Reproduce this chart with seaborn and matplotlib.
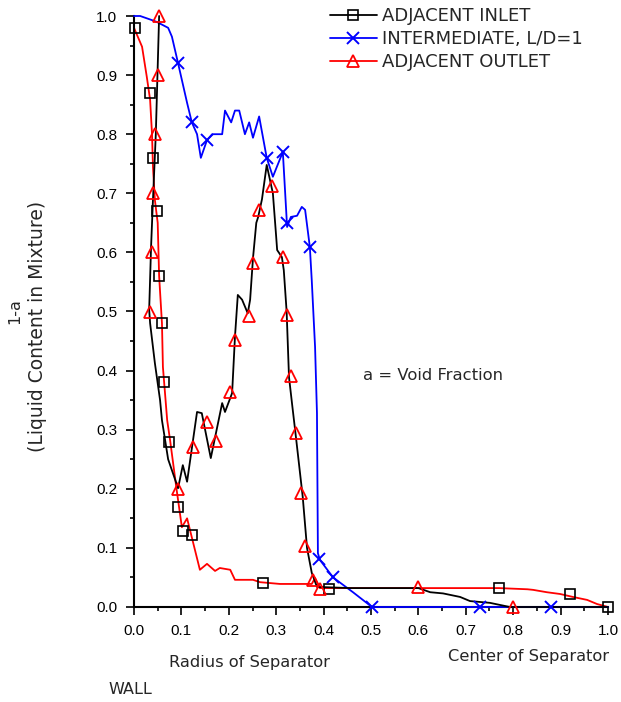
import matplotlib
matplotlib.use("Agg")
import matplotlib.pyplot as plt
from matplotlib.lines import Line2D
from matplotlib.ticker import MultipleLocator
import seaborn as sns

# ADJACENT INLET - black line
inlet_x = [0.053, 0.046, 0.040, 0.036, 0.032, 0.034, 0.044, 0.055, 0.059, 0.072, 0.093, 0.103,
           0.112, 0.133, 0.143, 0.162, 0.186, 0.192, 0.207, 0.213, 0.219, 0.228, 0.240, 0.245,
           0.251, 0.258, 0.262, 0.270, 0.280, 0.293, 0.300, 0.302, 0.312, 0.316, 0.322, 0.327,
           0.334, 0.342, 0.356, 0.365, 0.375, 0.386, 0.456, 0.600, 0.625, 0.652, 0.688, 0.709,
           0.751, 0.793, 1.000]
inlet_y = [1.000, 0.800, 0.689, 0.609, 0.503, 0.480, 0.413, 0.350, 0.316, 0.250, 0.201, 0.240,
           0.212, 0.330, 0.328, 0.252, 0.345, 0.330, 0.362, 0.457, 0.528, 0.520, 0.497, 0.520,
           0.590, 0.650, 0.660, 0.690, 0.748, 0.700, 0.626, 0.604, 0.592, 0.570, 0.500, 0.389,
           0.340, 0.285, 0.186, 0.100, 0.058, 0.034, 0.032, 0.032, 0.025, 0.023, 0.017, 0.010,
           0.007, 0.000, 0.000]
# square markers
sq_x = [0.002, 0.034, 0.040, 0.049, 0.053, 0.059, 0.063, 0.074, 0.093, 0.103, 0.122, 0.272,
        0.411, 0.770, 0.920, 1.000]
sq_y = [0.980, 0.870, 0.760, 0.670, 0.560, 0.480, 0.380, 0.280, 0.170, 0.129, 0.122, 0.040,
        0.030, 0.032, 0.022, 0.000]

# INTERMEDIATE, L/D=1 - blue line
mid_x = [0.000, 0.013, 0.038, 0.048, 0.072, 0.080, 0.093, 0.112, 0.122, 0.133, 0.141, 0.154,
         0.165, 0.186, 0.192, 0.205, 0.213, 0.222, 0.234, 0.243, 0.251, 0.264, 0.280, 0.293,
         0.314, 0.323, 0.331, 0.344, 0.354, 0.361, 0.371, 0.375, 0.382, 0.386, 0.388, 0.392,
         0.420, 0.462, 0.502, 1.000]
mid_y = [1.000, 1.000, 0.993, 0.990, 0.980, 0.965, 0.920, 0.853, 0.820, 0.800, 0.760, 0.790,
         0.800, 0.800, 0.840, 0.820, 0.840, 0.840, 0.800, 0.820, 0.794, 0.830, 0.760, 0.728,
         0.770, 0.643, 0.660, 0.662, 0.677, 0.672, 0.609, 0.553, 0.440, 0.328, 0.091, 0.080,
         0.050, 0.025, 0.000, 0.000]
x_mk_x = [0.093, 0.122, 0.154, 0.280, 0.314, 0.323, 0.371, 0.390, 0.420, 0.502, 0.730, 0.880]
x_mk_y = [0.920, 0.820, 0.790, 0.760, 0.770, 0.650, 0.609, 0.081, 0.050, 0.000, 0.000, 0.000]

# ADJACENT OUTLET - red line
outlet_x = [0.000, 0.017, 0.027, 0.034, 0.038, 0.040, 0.044, 0.050, 0.053, 0.059, 0.061, 0.070,
            0.076, 0.090, 0.101, 0.112, 0.139, 0.154, 0.171, 0.181, 0.203, 0.213, 0.251, 0.266,
            0.308, 0.375, 0.382, 0.392, 0.770, 0.830, 0.842, 0.871, 0.899, 0.926, 0.956, 0.977,
            1.000]
outlet_y = [0.980, 0.948, 0.897, 0.858, 0.800, 0.745, 0.689, 0.650, 0.560, 0.480, 0.406, 0.316,
            0.283, 0.198, 0.135, 0.150, 0.063, 0.073, 0.061, 0.066, 0.063, 0.046, 0.046, 0.042,
            0.039, 0.039, 0.049, 0.032, 0.032, 0.030, 0.029, 0.025, 0.022, 0.017, 0.012, 0.005,
            0.000]
tri_x = [0.053, 0.050, 0.044, 0.040, 0.038, 0.034, 0.093, 0.124, 0.154, 0.173, 0.203, 0.213,
         0.243, 0.251, 0.264, 0.291, 0.314, 0.322, 0.331, 0.342, 0.352, 0.361, 0.378, 0.392,
         0.600, 0.800]
tri_y = [1.000, 0.900, 0.800, 0.700, 0.600, 0.500, 0.200, 0.270, 0.313, 0.281, 0.364, 0.452,
         0.492, 0.582, 0.672, 0.712, 0.592, 0.494, 0.391, 0.294, 0.193, 0.103, 0.045, 0.030,
         0.033, 0.000]

sns.set_style("ticks")
plt.rcParams['font.family'] = ['Liberation Sans', 'DejaVu Sans']
wide = ['DejaVu Sans']

fig = plt.figure(figsize=(6.21, 7.02), dpi=100)
ax = fig.add_axes([134 / 621, 95 / 702, 474 / 621, 591 / 702])

lw = 1.3
sns.lineplot(x=outlet_x, y=outlet_y, sort=False, estimator=None, color='red', lw=lw, ax=ax,
             legend=False, zorder=2, clip_on=False)
sns.lineplot(x=mid_x, y=mid_y, sort=False, estimator=None, color='blue', lw=lw, ax=ax,
             legend=False, zorder=3, clip_on=False)
sns.lineplot(x=inlet_x, y=inlet_y, sort=False, estimator=None, color='black', lw=lw, ax=ax,
             legend=False, zorder=4, clip_on=False)

ax.plot(sq_x, sq_y, ls='none', marker='s', ms=7.5, mfc='none', mec='black', mew=1.2,
        zorder=6, clip_on=False)
ax.plot(tri_x, tri_y, ls='none', marker='^', ms=9, mfc='none', mec='red', mew=1.3,
        zorder=6, clip_on=False)
ax.plot(x_mk_x, x_mk_y, ls='none', marker='x', ms=8, mec='blue', mew=1.4,
        zorder=7, clip_on=False)

ax.set_xlim(0, 1)
ax.set_ylim(0, 1)
ax.xaxis.set_major_locator(MultipleLocator(0.1))
ax.xaxis.set_minor_locator(MultipleLocator(0.05))
ax.yaxis.set_major_locator(MultipleLocator(0.1))
ax.yaxis.set_minor_locator(MultipleLocator(0.05))
ax.xaxis.set_major_formatter(plt.FormatStrFormatter('%.1f'))
ax.yaxis.set_major_formatter(plt.FormatStrFormatter('%.1f'))
ax.tick_params(which='major', length=6, width=1.2, direction='out', labelsize=11, pad=6,
               color='black', labelcolor='black')
ax.tick_params(which='minor', length=3, width=1.2, direction='out', color='black')
sns.despine(ax=ax)
for s in ['left', 'bottom']:
    ax.spines[s].set_linewidth(1.5)
    ax.spines[s].set_color('black')
ax.set_xlabel('')
ax.set_ylabel('')

# texts
ax.text(0.483, 0.391, 'a = Void Fraction', fontsize=11.8, family=wide, ha='left', va='center')
fig.text(249 / 621, 1 - 663 / 702, 'Radius of Separator', fontsize=11.7, family=wide,
         ha='center', va='center')
fig.text(528 / 621, 1 - 657 / 702, 'Center of Separator', fontsize=11.7, family=wide,
         ha='center', va='center')
fig.text(108 / 621, 1 - 690 / 702, 'WALL', fontsize=11.5, family=wide, ha='left', va='center')
fig.text(15 / 621, 1 - 311 / 702, '1-a', fontsize=11.5, family=wide, ha='center', va='center',
         rotation=90)
fig.text(38 / 621, 1 - 326 / 702, '(Liquid Content in Mixture)', fontsize=13.5, family=wide,
         ha='center', va='center', rotation=90)

handles = [
    Line2D([], [], color='black', lw=lw, marker='s', ms=7.5, mfc='none', mew=1.2),
    Line2D([], [], color='blue', lw=lw, marker='x', ms=8, mew=1.4),
    Line2D([], [], color='red', lw=lw, marker='^', ms=9, mfc='none', mew=1.3),
]
labels = ['ADJACENT INLET', 'INTERMEDIATE, L/D=1', 'ADJACENT OUTLET']
ax.legend(handles, labels, loc='upper left', bbox_to_anchor=(330 / 621, 1 - 7 / 702),
          bbox_transform=fig.transFigure, frameon=False, prop={'family': wide, 'size': 13},
          handlelength=2.6, handletextpad=0.3, labelspacing=0.28, borderpad=0,
          borderaxespad=0)

fig.savefig('out.png', dpi=100)
